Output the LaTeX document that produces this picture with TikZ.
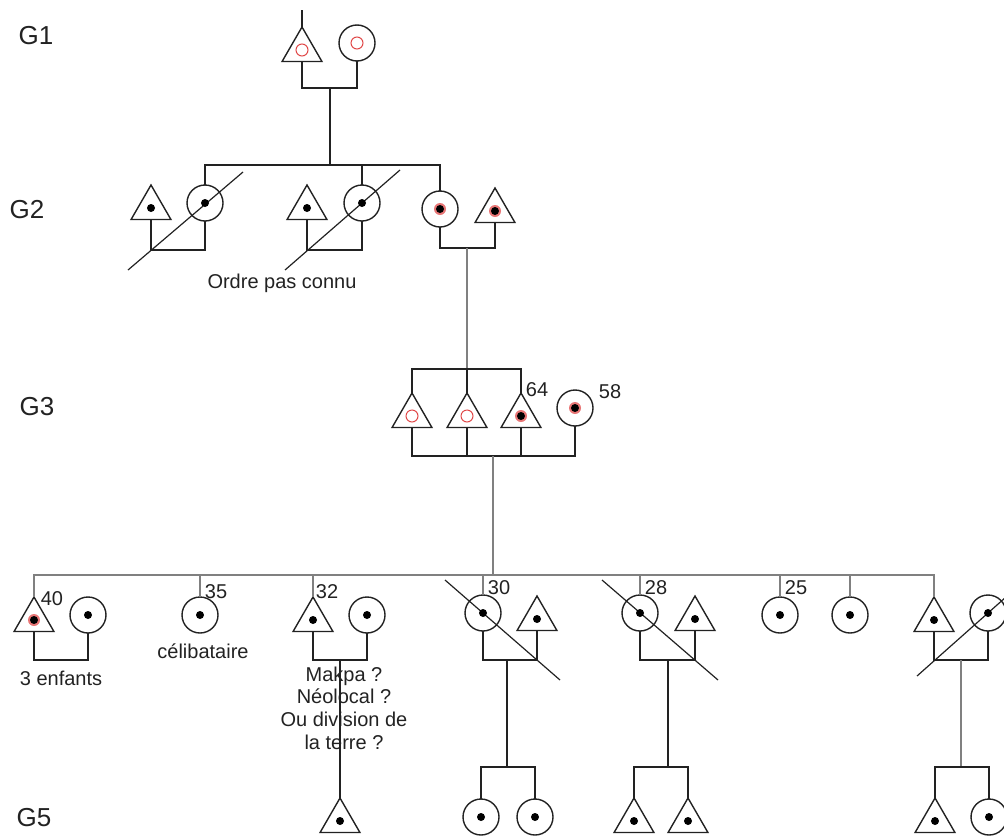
\documentclass[tikz,border=0pt]{standalone}
\usepackage{fontspec}
\setmainfont{Liberation Sans}
\usetikzlibrary{shapes.geometric,calc}
\definecolor{ink}{HTML}{222222}
\definecolor{gline}{HTML}{808080}
\definecolor{kred}{HTML}{E04848}
\begin{document}
\begin{tikzpicture}[x=0.5pt,y=-0.5pt,
  fem/.style={circle,draw=ink,line width=0.7pt,minimum size=18pt,inner sep=0pt,outer sep=0pt},
  mal/.style={regular polygon,regular polygon sides=3,draw=ink,line width=0.7pt,minimum size=23pt,inner sep=0pt,outer sep=0pt},
  link/.style={draw=ink,line width=0.8pt},
  glink/.style={draw=gline,line width=0.9pt},
  strike/.style={draw=ink,line width=0.6pt},
  lbl/.style={font=\fontsize{10}{12}\selectfont,text=ink,inner sep=0pt},
  gen/.style={font=\fontsize{13}{15}\selectfont,text=ink,inner sep=0pt}]
\useasboundingbox (0,0) rectangle (1004,835);

% generation labels
\node[gen] (lg1) at (36,36) {G1};
\node[gen] (lg2) at (27,210) {G2};
\node[gen] (lg3) at (37,407) {G3};
\node[gen] (lg5) at (34,818) {G5};

% ---------- G1
\node[mal] (m1) at (302,50) {};
\node[fem] (f1) at (357,43) {};
\coordinate (u1) at (330,88);
\coordinate (s2) at (330,165);
\draw[link] (m1.north) -- ++(0,-17);
\draw[link] (m1.south) |- (u1) -| (f1.south);
\draw[link] (u1) -- (s2);

% ---------- G2
\node[mal] (t21) at (151,208) {};
\node[fem] (c21) at (205,203) {};
\node[mal] (t22) at (307,208) {};
\node[fem] (c22) at (362,203) {};
\node[fem] (c23) at (440,209) {};
\node[mal] (t23) at (495,211) {};
\coordinate (u21) at (178,250);
\coordinate (u22) at (335,250);
\coordinate (u23) at (467,248);
\coordinate (s3) at (467,369);
\draw[link] (s2) -| (c21.north);
\draw[link] (s2) -| (c22.north);
\draw[link] (s2) -| (c23.north);
\draw[link] (t21.south) |- (u21) -| (c21.south);
\draw[link] (t22.south) |- (u22) -| (c22.south);
\draw[link] (c23.south) |- (u23) -| (t23.south);
\draw[glink] (u23) -- (s3);
\draw[strike] ($(c21.center)+(-77,67)$) -- ($(c21.center)+(38,-31)$);
\draw[strike] ($(c22.center)+(-77,67)$) -- ($(c22.center)+(38,-33)$);
\node[lbl] (ordre) at (282,283) {Ordre pas connu};

% ---------- G3
\node[mal] (t31) at (412,416) {};
\node[mal] (t32) at (467,416) {};
\node[mal] (t33) at (521,416) {};
\node[fem] (c34) at (575,408) {};
\coordinate (u3) at (493,456);
\coordinate (s4) at (493,575);
\draw[link] (s3) -| (t31.north);
\draw[link] (s3) -- (t32.north);
\draw[link] (s3) -| (t33.north);
\draw[link] (t31.south) |- (u3) -| (c34.south);
\draw[link] (t32.south) -- (t32.south |- u3);
\draw[link] (t33.south) -- (t33.south |- u3);
\draw[glink] (u3) -- (s4);
\node[lbl] (a64) at (537,390) {64};
\node[lbl] (a58) at (610,392) {58};

% ---------- G4
\node[mal] (t41) at (34,620) {};
\node[fem] (c41) at (88,615) {};
\node[fem] (c42) at (200,615) {};
\node[mal] (t43) at (313,620) {};
\node[fem] (c43) at (367,615) {};
\node[fem] (c44) at (483,613) {};
\node[mal] (t44) at (537,619) {};
\node[fem] (c45) at (640,613) {};
\node[mal] (t45) at (695,619) {};
\node[fem] (c46) at (780,615) {};
\node[fem] (c47) at (850,615) {};
\node[mal] (t48) at (934,620) {};
\node[fem] (c48) at (988,613) {};
\coordinate (u41) at (61,660);
\coordinate (u43) at (340,660);
\coordinate (u44) at (507,660);
\coordinate (u45) at (668,660);
\coordinate (u48) at (961,660);
\foreach \p in {t41,c42,t43,c44,c45,c46,c47,t48}
  \draw[glink] (s4) -| (\p.north);
\draw[link] (t41.south) |- (u41) -| (c41.south);
\draw[link] (t43.south) |- (u43) -| (c43.south);
\draw[link] (c44.south) |- (u44) -| (t44.south);
\draw[link] (c45.south) |- (u45) -| (t45.south);
\draw[link] (t48.south) |- (u48) -| (c48.south);
\draw[strike] ($(c44.center)+(-38,-33)$) -- ($(c44.center)+(77,67)$);
\draw[strike] ($(c45.center)+(-38,-33)$) -- ($(c45.center)+(78,67)$);
\draw[strike] ($(c48.center)+(-71,63)$) -- ($(c48.center)+(18,-16)$);
\node[lbl] (a40) at (52,599) {40};
\node[lbl] (a35) at (216,592) {35};
\node[lbl] (a32) at (327,592) {32};
\node[lbl] (a30) at (499,588) {30};
\node[lbl] (a28) at (656,588) {28};
\node[lbl] (a25) at (796,588) {25};
\node[lbl] (enf) at (61,678) {3 enfants};
\node[lbl] (celib) at (203,651) {célibataire};
\node[lbl,align=center,font=\fontsize{10}{11.35}\selectfont] (makpa) at (344,708)
  {Makpa ?\\Néolocal ?\\Ou division de\\la terre ?};

% ---------- G5
\node[mal] (t5) at (340,821) {};
\node[fem] (c51) at (481,817) {};
\node[fem] (c52) at (535,817) {};
\node[mal] (t53) at (634,821) {};
\node[mal] (t54) at (688,821) {};
\node[mal] (t55) at (935,821) {};
\node[fem] (c56) at (989,817) {};
\coordinate (s5a) at (507,767);
\coordinate (s5b) at (668,767);
\coordinate (s5c) at (961,767);
\draw[link] (u43) -- (t5.north);
\draw[link] (u44) -- (s5a);
\draw[link] (u45) -- (s5b);
\draw[glink] (u48) -- (s5c);
\draw[link] (c51.north) |- (s5a) -| (c52.north);
\draw[link] (t53.north) |- (s5b) -| (t54.north);
\draw[link] (t55.north) |- (s5c) -| (c56.north);

% ---------- markers
\foreach \p in {m1,f1,t31,t32}
  \draw[kred,line width=0.5pt] (\p.center) circle (3pt);
\foreach \p in {c23,t23,t33,c34,t41}
  \fill[kred!75!white] (\p.center) circle (3pt);
\foreach \p in {t21,c21,t22,c22,c23,t23,t33,c34,t41,c41,c42,t43,c43,c44,t44,c45,t45,c46,c47,t48,c48,t5,c51,c52,t53,t54,t55,c56}
  \fill[black] (\p.center) circle (2pt);
\end{tikzpicture}
\end{document}
